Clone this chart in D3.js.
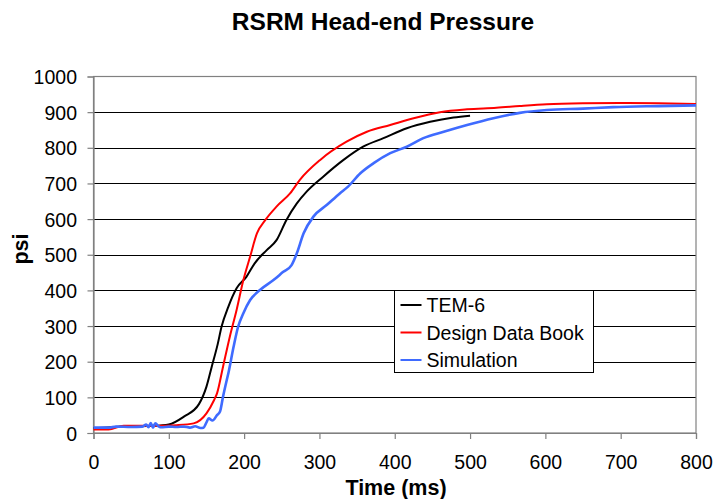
<!DOCTYPE html>
<html>
<head>
	<meta charset="utf-8">
	<script src="https://cdn.jsdelivr.net/npm/d3@7"></script>
	<style>
		body { margin: 0; background: #fff; }
		text { font-family: "Liberation Sans", Arial, sans-serif; fill: #000; }
	</style>
</head>
<body>
<script type="text/javascript">
	"use strict";

	// values: time (ms) and pressure (psi)
	var temTime = [0, 40, 80, 100, 120, 140, 150, 157, 165, 170, 179, 190, 203, 214, 230, 243, 256, 270, 283, 305, 332, 358, 385, 416, 447, 478, 500];
	var temPsi  = [13, 18, 20, 24, 46, 81, 130, 186, 250, 298, 354, 406, 438, 476, 513, 541, 597, 644, 677, 719, 766, 803, 827, 855, 873, 885, 890];

	var ddbTime = [0, 20, 40, 80, 110, 133, 150, 160, 164, 172, 181, 190, 199, 208, 217, 228, 243, 261, 274, 301, 336, 363, 394, 425, 460, 496, 535, 566, 602, 650, 699, 750, 800];
	var ddbPsi  = [10, 10, 20, 20, 22, 27, 55, 92, 111, 186, 270, 345, 429, 495, 560, 597, 635, 672, 710, 766, 817, 845, 864, 883, 900, 908, 912, 917, 922, 925, 926, 925, 923];

	var simTime = [0, 20, 30, 50, 65, 70, 73, 76, 79, 82, 87, 90, 100, 110, 120, 128, 135, 142, 146, 150, 153, 158, 164, 168, 172, 177, 179, 186, 192, 199, 208, 221, 239, 252, 263, 270, 279, 292, 310, 327, 338, 354, 372, 394, 416, 438, 465, 496, 531, 566, 602, 650, 690, 750, 800];
	var simPsi  = [15, 15, 18, 17, 18, 24, 16, 28, 15, 27, 18, 16, 18, 17, 18, 15, 19, 14, 15, 30, 41, 35, 50, 60, 102, 149, 167, 242, 298, 336, 373, 401, 429, 452, 471, 504, 560, 607, 640, 672, 691, 728, 757, 785, 803, 827, 845, 864, 883, 898, 906, 910, 914, 917, 919];

	var yTicks = [0, 100, 200, 300, 400, 500, 600, 700, 800, 900, 1000];
	var xTicks = [0, 100, 200, 300, 400, 500, 600, 700, 800];
	var seriesNames = ["TEM-6", "Design Data Book", "Simulation"];
	var seriesColors = ["#000000", "#ff0000", "#3f6bff"];

	function pairs(t, p) {
		return t.map(function (d, i) { return [d, p[i]]; });
	}
	var series = [pairs(temTime, temPsi), pairs(ddbTime, ddbPsi), pairs(simTime, simPsi)];

	var width = 722, height = 499;
	var plotLeft = 93.5, plotRight = 696, plotTop = 76.5, plotBottom = 433;

	var svg = d3.select("body").append("svg")
		.attr("width", width)
		.attr("height", height);

	var x = d3.scaleLinear().domain([0, 800]).range([plotLeft, plotRight]);
	var y = d3.scaleLinear().domain([0, 1000]).range([plotBottom, plotTop]);

	// gridlines
	svg.append("g")
		.selectAll("line")
		.data(yTicks.filter(function (d) { return d > 0 && d < 1000; }))
		.enter().append("line")
		.attr("x1", plotLeft).attr("x2", plotRight)
		.attr("y1", function (d) { return Math.round(y(d)) + 0.5; })
		.attr("y2", function (d) { return Math.round(y(d)) + 0.5; })
		.attr("stroke", "#000")
		.attr("stroke-width", 1);

	// frame
	svg.append("rect")
		.attr("x", plotLeft).attr("y", plotTop)
		.attr("width", plotRight - plotLeft).attr("height", plotBottom - plotTop)
		.attr("fill", "none")
		.attr("stroke", "#808080")
		.attr("stroke-width", 1.2);

	var xAxis = svg.append("g")
		.attr("transform", "translate(0," + plotBottom + ")")
		.call(d3.axisBottom(x).tickValues(xTicks).tickFormat(d3.format("d")).tickSize(6).tickPadding(16));
	var yAxis = svg.append("g")
		.attr("transform", "translate(" + plotLeft + ",0)")
		.call(d3.axisLeft(y).tickValues(yTicks).tickFormat(d3.format("d")).tickSize(6).tickPadding(10.5));

	[xAxis, yAxis].forEach(function (a) {
		a.select(".domain").attr("stroke", "#808080").attr("stroke-width", 1.2);
		a.selectAll(".tick line").attr("stroke", "#808080").attr("stroke-width", 1.2);
		a.selectAll(".tick text")
			.style("font-family", "'Liberation Sans', Arial, sans-serif")
			.style("font-size", "19.5px")
			.attr("fill", "#000");
	});
	yAxis.selectAll(".tick text").attr("dy", "0.36em");

	// curves
	var line = d3.line()
		.x(function (d) { return x(d[0]); })
		.y(function (d) { return y(d[1]); })
		.curve(d3.curveMonotoneX);

	svg.append("g")
		.selectAll("path")
		.data(series)
		.enter().append("path")
		.attr("d", line)
		.attr("fill", "none")
		.attr("stroke", function (d, i) { return seriesColors[i]; })
		.attr("stroke-width", function (d, i) { return i === 2 ? 2.6 : 2; })
		.attr("stroke-linejoin", "round");

	// legend
	var legend = svg.append("g").attr("transform", "translate(394.5,290.5)");
	legend.append("rect")
		.attr("width", 199).attr("height", 82)
		.attr("fill", "#fff")
		.attr("stroke", "#000")
		.attr("stroke-width", 1);
	var item = legend.selectAll("g.item")
		.data(seriesNames)
		.enter().append("g")
		.attr("class", "item")
		.attr("transform", function (d, i) { return "translate(0," + (14.5 + i * 27.5) + ")"; });
	item.append("line")
		.attr("x1", 6).attr("x2", 27)
		.attr("stroke", function (d, i) { return seriesColors[i]; })
		.attr("stroke-width", 2);
	item.append("text")
		.attr("x", 32)
		.attr("dy", "0.36em")
		.style("font-size", "19.5px")
		.text(function (d) { return d; });

	// titles
	svg.append("text")
		.attr("x", 383).attr("y", 30)
		.attr("text-anchor", "middle")
		.style("font-size", "24.5px")
		.style("font-weight", "bold")
		.text("RSRM Head-end Pressure");

	svg.append("text")
		.attr("x", 396).attr("y", 495)
		.attr("text-anchor", "middle")
		.style("font-size", "21.5px")
		.style("font-weight", "bold")
		.text("Time (ms)");

	svg.append("text")
		.attr("transform", "translate(28,249) rotate(-90)")
		.attr("text-anchor", "middle")
		.style("font-size", "21.5px")
		.style("font-weight", "bold")
		.text("psi");
</script>
</body>
</html>
